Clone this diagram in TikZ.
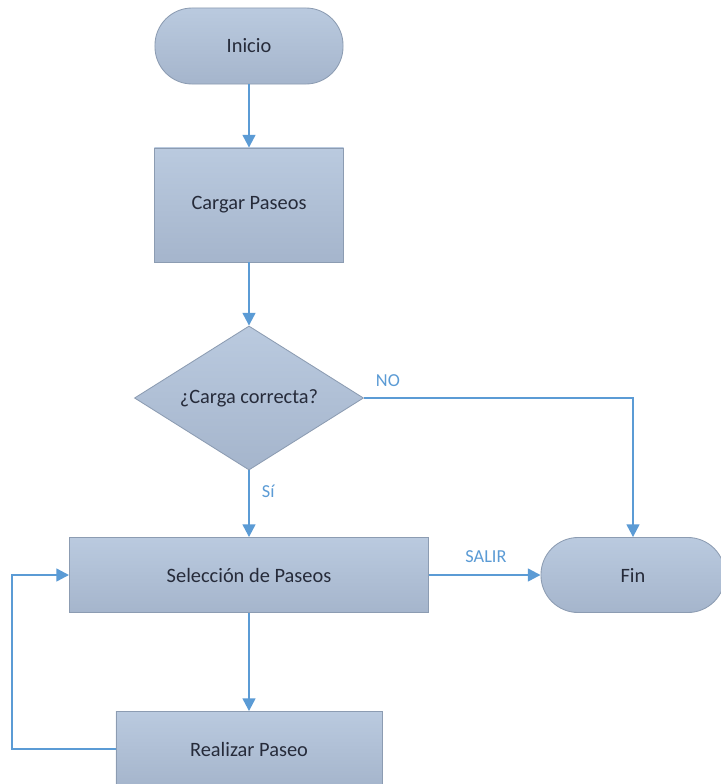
\documentclass[tikz,border=0pt]{standalone}
\usepackage{fontspec}
\setmainfont{Carlito}
\usetikzlibrary{arrows.meta,shapes.geometric}
\definecolor{cajaA}{HTML}{BACADF}
\definecolor{cajaB}{HTML}{A5B5CC}
\definecolor{borde}{HTML}{8C9CB2}
\definecolor{flecha}{HTML}{5B9BD5}
\definecolor{texto}{HTML}{262B3A}
\tikzset{
  caja/.style={rectangle,draw=borde,line width=0.6pt,top color=cajaA,bottom color=cajaB,
    text=texto,font=\fontsize{14.5}{16}\selectfont,inner sep=0pt},
  % inicio / fin
  terminal/.style={caja,rounded corners=0.93cm},
  proceso/.style={caja},
  decision/.style={caja,diamond,aspect=1.6,inner sep=0pt},
  % conectores
  flujo/.style={line width=1.6pt,flecha,-{Triangle[length=9pt,width=9pt]}},
  etiq/.style={text=flecha,font=\fontsize{13}{15}\selectfont},
}

\begin{document}
\begin{tikzpicture}[x=0.025cm,y=-0.025cm]
\useasboundingbox[fill=white] (0,0) rectangle (721,784);

%% ===== nodos =====
\node[terminal,minimum width=4.7cm,minimum height=1.9cm] (ini) at (249,46) {Inicio};
\node[proceso,minimum width=4.725cm,minimum height=2.85cm] (carga) at (249,205) {Cargar Paseos};
\node[decision,minimum width=5.725cm,minimum height=3.6cm] (dec) at (249,398) {¿Carga correcta?};
\node[proceso,minimum width=8.975cm,minimum height=1.875cm] (sel) at (249,575) {Selección de Paseos};
\node[terminal,minimum width=4.6cm,minimum height=1.875cm] (fin) at (633,575) {Fin};
\node[proceso,minimum width=6.65cm,minimum height=1.875cm] (real) at (249,749) {Realizar Paseo};
\coordinate (lazo) at (12,749);

%% ===== conectores =====
\draw[flujo] (ini) -- (carga);
\draw[flujo] (carga) -- (dec);
\draw[flujo] (dec.east) -| (fin.north);
\draw[flujo] (dec.south) -- (sel.north);
\draw[flujo] (sel.east) -- (fin.west);
\draw[flujo] (sel.south) -- (real.north);
\draw[flujo] (real.west) -- (lazo) |- (sel.west);

%% etiquetas
\node[etiq,anchor=west] (no) at (371,381) {NO};
\node[etiq,anchor=west] (si) at (257,491) {Sí};
\node[etiq] (salir) at (486,557) {SALIR};
\end{tikzpicture}
\end{document}
